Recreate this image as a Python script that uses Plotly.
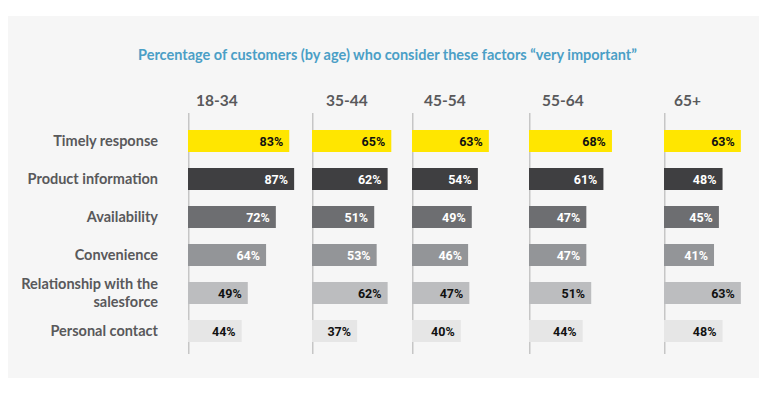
import plotly.graph_objects as go

# ---- data ----
factors = ["Timely response", "Product information", "Availability", "Convenience",
           "Relationship with the<br>salesforce", "Personal contact"]
age_groups = ["18-34", "35-44", "45-54", "55-64", "65+"]
values_18_34 = [83, 87, 72, 64, 49, 44]
values_35_44 = [65, 62, 51, 53, 62, 37]
values_45_54 = [63, 54, 49, 46, 47, 40]
values_55_64 = [68, 61, 47, 47, 51, 44]
values_65_plus = [63, 48, 45, 41, 63, 48]
title_text = "Percentage of customers (by age) who consider these factors \u201cvery important\u201d"

# ---- styling ----
W, H = 767, 393
OFF = 8  # page body margin
bar_colors = ["#ffe600", "#3f3f41", "#6d6e71", "#939598", "#bcbdbf", "#e6e6e6"]
label_colors = ["#111111", "#ffffff", "#ffffff", "#ffffff", "#111111", "#111111"]
group_left_px = [188, 312, 412, 529, 664]       # baseline x positions (px, page)
group_right_px = [312, 412, 529, 664, 767]
px_per_pct = 1.22
header_offset_px = [6, 12, 10, 11, 8]
label_font = "Roboto, sans-serif"

series = [values_18_34, values_35_44, values_45_54, values_55_64, values_65_plus]

def px2x(p):
    return (p - OFF) / W

def px2y(p):
    return 1 - (p - OFF) / H

fig = go.Figure()
layout = dict()
shapes = []
annotations = []

# panel background
shapes.append(dict(type="rect", xref="paper", yref="paper", x0=px2x(8), x1=px2x(759),
                   y0=px2y(378), y1=px2y(16), fillcolor="#f6f6f6", line=dict(width=0),
                   layer="below"))

for i, (grp, vals) in enumerate(zip(age_groups, series)):
    ax = "x" if i == 0 else f"x{i+1}"
    axkey = "xaxis" if i == 0 else f"xaxis{i+1}"
    left, right = group_left_px[i], group_right_px[i]
    fig.add_trace(go.Bar(
        x=vals, y=factors, orientation="h", xaxis=ax, yaxis="y",
        marker=dict(color=bar_colors, line=dict(width=0)),
        text=[f"{v}%\u00a0" for v in vals], textposition="inside", insidetextanchor="end",
        constraintext="none",
        textfont=dict(family=label_font, size=12.5, color=label_colors, weight="bold"),
        width=0.58, showlegend=False, hoverinfo="skip", cliponaxis=False,
    ))
    layout[axkey] = dict(domain=[px2x(left), min(1, px2x(right))],
                         range=[0, (min(right, W + OFF) - left) / px_per_pct],
                         showgrid=False, zeroline=False, showticklabels=False, ticks="",
                         showline=False, anchor="y", fixedrange=True)
    shapes.append(dict(type="line", xref=ax, yref="paper", x0=0, x1=0,
                       y0=px2y(354), y1=px2y(113), line=dict(color="#c6c6c6", width=3),
                       layer="below"))
    annotations.append(dict(text=grp, xref="paper", yref="paper",
                            x=px2x(left + header_offset_px[i]), y=px2y(100),
                            xanchor="left", yanchor="middle", showarrow=False,
                            font=dict(family="Lato", size=15.5, color="#59595b", weight="bold")))

annotations.append(dict(text=title_text, xref="paper", yref="paper", x=px2x(387), y=px2y(54),
                        xanchor="center", yanchor="middle", showarrow=False,
                        font=dict(family="Lato", size=14.5, color="#4b9fc6", weight="bold")))

layout["yaxis"] = dict(domain=[px2y(350), px2y(122)], type="category",
                       categoryorder="array", categoryarray=factors,
                       range=[5.5, -0.5], anchor="x", showgrid=False, zeroline=False,
                       showline=False, ticks="", ticklabelstandoff=29,
                       tickfont=dict(family="Lato", size=14.5, color="#59595b", weight="bold"),
                       fixedrange=True)

fig.update_layout(**layout)
fig.update_layout(width=W, height=H, margin=dict(l=0, r=0, t=0, b=0),
                  paper_bgcolor="#ffffff", plot_bgcolor="rgba(0,0,0,0)",
                  shapes=shapes, annotations=annotations, bargap=0.4)
fig.write_html("out.html", config={"displayModeBar": False})
